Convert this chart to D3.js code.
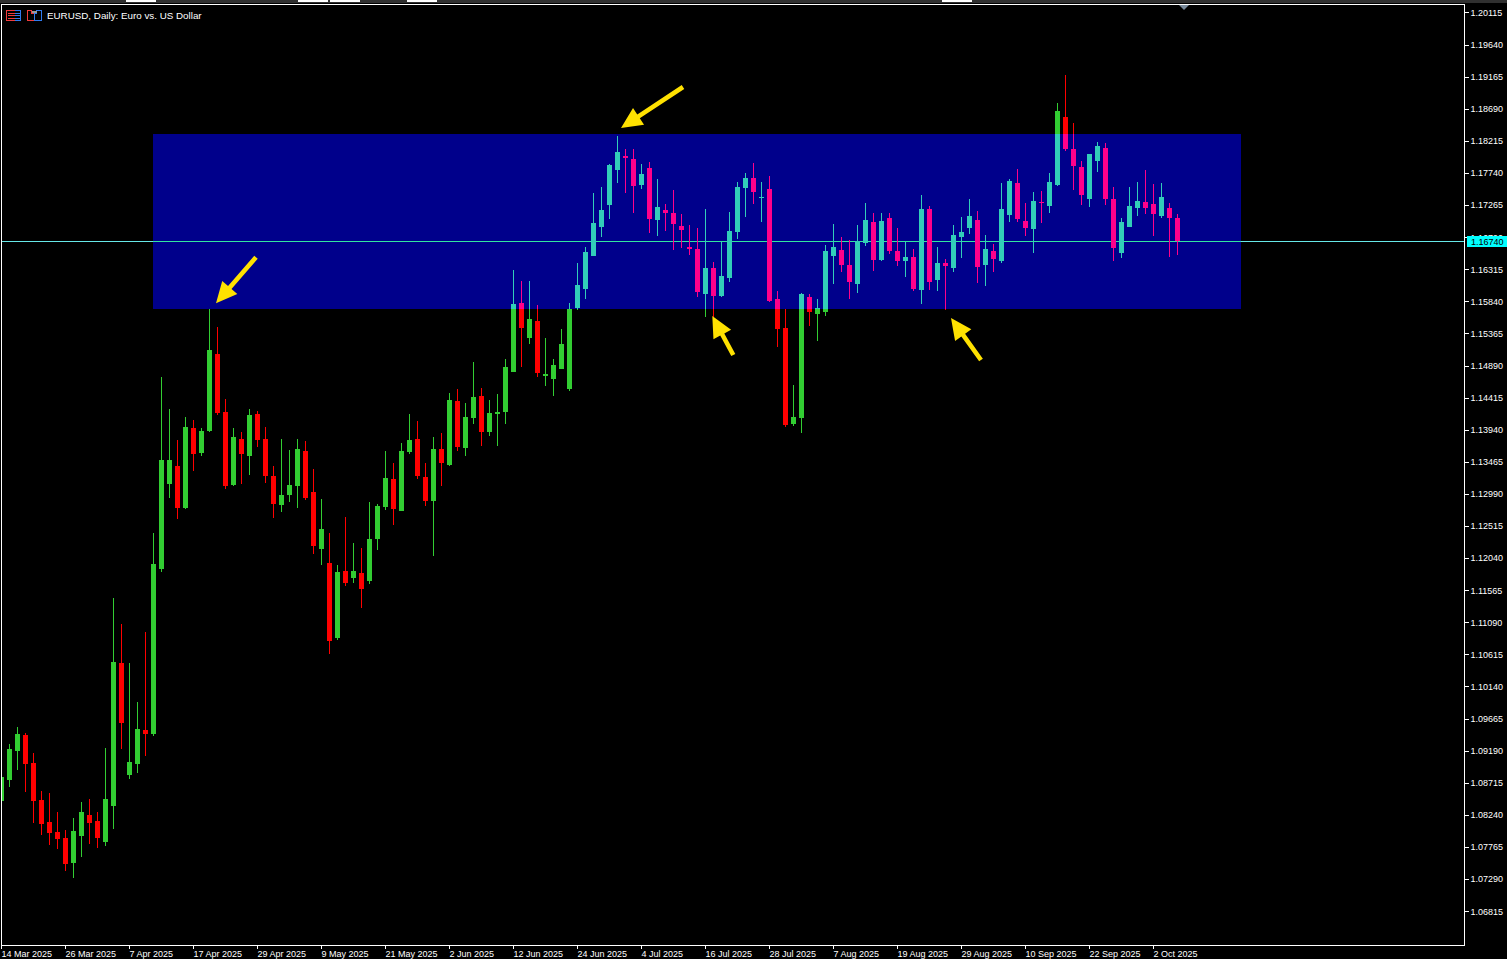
<!DOCTYPE html>
<html>
<head>
<meta charset="utf-8">
<title>EURUSD, Daily</title>
<script src="https://cdn.jsdelivr.net/npm/d3@7"></script>
<style>
html,body{margin:0;padding:0;background:#000;overflow:hidden}
svg{display:block}
text{font-family:"Liberation Sans",Arial,sans-serif;font-size:9px;fill:#fff}
</style>
</head>
<body>
<svg id="chart" width="1507" height="959"></svg>
<script>
const chartTitle = "EURUSD, Daily:  Euro vs. US Dollar";
const opens = [
1.08452,1.08763,1.09192,1.09429,1.09015,1.08467,1.08141,1.07993,1.07905,1.07535,
1.07934,1.08245,1.08156,1.07845,1.08378,1.10495,1.08837,1.09000,1.09503,1.09444,
1.11886,1.13144,1.13410,1.12789,1.13973,1.13603,1.13928,1.15068,1.14209,1.13129,
1.13810,1.13558,1.14180,1.13810,1.13262,1.12833,1.12981,1.13114,1.13632,1.13025,
1.12182,1.11975,1.10865,1.11856,1.11753,1.11827,1.11708,1.12330,1.12803,1.13218,
1.12744,1.13617,1.13810,1.13247,1.12892,1.13662,1.13425,1.14372,1.13677,1.14121,
1.14446,1.13913,1.14180,1.14209,1.14801,1.15823,1.15305,1.15556,1.14742,1.14698,
1.14846,1.14550,1.15749,1.16030,1.16518,1.16947,1.17273,1.17791,1.17998,1.17954,
1.17569,1.17821,1.17051,1.17199,1.17155,1.16962,1.16651,1.16622,1.15956,1.16341,
1.15926,1.16193,1.16873,1.17525,1.17673,1.17377,1.17510,1.15882,1.15453,1.14032,
1.14121,1.15911,1.15660,1.15689,1.16518,1.16607,1.16385,1.16104,1.16711,1.17021,
1.16459,1.17081,1.16592,1.16444,1.16503,1.16015,1.17214,1.16163,1.16415,1.16341,
1.16799,1.16933,1.17051,1.16385,1.16592,1.16444,1.17125,1.17599,1.17036,1.16918,
1.17317,1.17258,1.17569,1.18575,1.18102,1.17835,1.17362,1.17924,1.18117,1.17362,
1.16563,1.16947,1.17229,1.17317,1.17288,1.17110,1.17229,1.17081];
const highs = [
1.08807,1.09296,1.09547,1.09459,1.09163,1.08600,1.08571,1.08289,1.08023,1.08201,
1.08437,1.08482,1.08289,1.09237,1.11457,1.11072,1.10495,1.09917,1.10953,1.12419,
1.14727,1.14254,1.13795,1.14135,1.14091,1.13973,1.15734,1.15467,1.14402,1.13973,
1.13913,1.14254,1.14224,1.13987,1.13410,1.13810,1.13647,1.13810,1.13780,1.13366,
1.12922,1.12419,1.11945,1.12655,1.12271,1.12197,1.12877,1.12848,1.13632,1.13455,
1.13751,1.14180,1.14076,1.13455,1.13839,1.13899,1.14491,1.14550,1.14343,1.14949,
1.14565,1.14387,1.14476,1.14994,1.16311,1.16148,1.16148,1.15793,1.15305,1.14994,
1.15438,1.15823,1.16415,1.16651,1.17451,1.17539,1.17880,1.18294,1.18102,1.18102,
1.17880,1.17909,1.17658,1.17288,1.17495,1.17140,1.16977,1.16933,1.17214,1.16429,
1.16725,1.17169,1.17613,1.17747,1.17895,1.17613,1.17702,1.16000,1.15734,1.14609,
1.15971,1.15956,1.15882,1.16681,1.16992,1.16799,1.16755,1.16977,1.17303,1.17155,
1.17155,1.17155,1.16933,1.16725,1.16622,1.17421,1.17258,1.16651,1.16474,1.16977,
1.17095,1.17362,1.17184,1.16829,1.16696,1.17599,1.17658,1.17806,1.17303,1.17465,
1.17480,1.17747,1.18783,1.19197,1.18487,1.17924,1.18028,1.18205,1.18191,1.17539,
1.17081,1.17539,1.17613,1.17791,1.17584,1.17599,1.17303,1.17140];
const lows = [
1.08452,1.08659,1.08911,1.08585,1.08127,1.07949,1.07801,1.07742,1.07416,1.07313,
1.07623,1.07816,1.07757,1.07786,1.08038,1.09222,1.08778,1.08867,1.09118,1.09414,
1.11841,1.12937,1.12626,1.12774,1.13336,1.13558,1.13913,1.14165,1.13070,1.13114,
1.13144,1.13277,1.13691,1.13159,1.12641,1.12729,1.12877,1.12789,1.12907,1.12108,
1.11945,1.10628,1.10835,1.11634,1.11679,1.11309,1.11664,1.12167,1.12759,1.12537,
1.12744,1.13588,1.13218,1.12818,1.12078,1.13114,1.13410,1.13632,1.13558,1.14032,
1.13706,1.13854,1.13706,1.14032,1.14801,1.14875,1.15216,1.14727,1.14594,1.14446,
1.14846,1.14520,1.15719,1.15882,1.16518,1.16799,1.17066,1.17599,1.17451,1.17155,
1.17510,1.16859,1.16814,1.16888,1.16607,1.16637,1.16533,1.15911,1.15615,1.15615,
1.15911,1.16133,1.16770,1.17095,1.17288,1.17021,1.15837,1.15171,1.13987,1.14002,
1.13899,1.15482,1.15260,1.15630,1.16104,1.16281,1.15882,1.15971,1.16666,1.16296,
1.16444,1.16548,1.16370,1.16207,1.16000,1.15808,1.16015,1.16000,1.15719,1.16281,
1.16489,1.16844,1.16119,1.16074,1.16281,1.16415,1.17021,1.17021,1.16814,1.16563,
1.17007,1.17155,1.17554,1.18072,1.17495,1.17273,1.17243,1.17761,1.17273,1.16444,
1.16489,1.16947,1.17110,1.17140,1.16814,1.17081,1.16503,1.16533];
const closes = [
1.08807,1.09222,1.09444,1.09000,1.08452,1.08112,1.07979,1.07890,1.07520,1.08008,
1.08289,1.08127,1.07905,1.08482,1.10509,1.09607,1.09029,1.09518,1.09444,1.11960,
1.13499,1.13499,1.12789,1.13987,1.13588,1.13928,1.15127,1.14195,1.13114,1.13839,
1.13588,1.14165,1.13795,1.13262,1.12848,1.12981,1.13129,1.13662,1.12937,1.12226,
1.12478,1.10820,1.11841,1.11679,1.11856,1.11590,1.12330,1.12818,1.13233,1.12774,
1.13632,1.13795,1.13262,1.12892,1.13662,1.13455,1.14387,1.13691,1.14135,1.14431,
1.13913,1.14195,1.14209,1.14875,1.15808,1.15453,1.15586,1.14787,1.14772,1.14905,
1.15216,1.15734,1.16089,1.16577,1.17007,1.17199,1.17865,1.18057,1.17969,1.17554,
1.17732,1.17066,1.17243,1.17155,1.16992,1.16903,1.16622,1.15985,1.16341,1.15926,
1.16222,1.16888,1.17539,1.17673,1.17465,1.17391,1.15852,1.15438,1.14017,1.14135,
1.15956,1.15689,1.15749,1.16592,1.16651,1.16385,1.16133,1.16740,1.17051,1.16459,
1.17036,1.16592,1.16444,1.16503,1.16030,1.17214,1.16133,1.16415,1.16370,1.16829,
1.16873,1.17110,1.16355,1.16622,1.16474,1.17214,1.17628,1.17066,1.16933,1.17332,
1.17303,1.17613,1.18664,1.18102,1.17850,1.17421,1.18028,1.18146,1.17362,1.16637,
1.17021,1.17258,1.17332,1.17229,1.17140,1.17391,1.17081,1.16740];
const priceTicks = [1.20115,1.19640,1.19165,1.18690,1.18215,1.17740,1.17265,1.16790,1.16315,1.15840,
1.15365,1.14890,1.14415,1.13940,1.13465,1.12990,1.12515,1.12040,1.11565,1.11090,1.10615,1.10140,
1.09665,1.09190,1.08715,1.08240,1.07765,1.07290,1.06815];
const dateLabels = ["14 Mar 2025","26 Mar 2025","7 Apr 2025","17 Apr 2025","29 Apr 2025","9 May 2025",
"21 May 2025","2 Jun 2025","12 Jun 2025","24 Jun 2025","4 Jul 2025","16 Jul 2025","28 Jul 2025",
"7 Aug 2025","19 Aug 2025","29 Aug 2025","10 Sep 2025","22 Sep 2025","2 Oct 2025"];
const dateTickBars = [0,8,16,24,32,40,48,56,64,72,80,88,96,104,112,120,128,136,144];
const lastPrice = 1.16740;
// Resistance/support zone: first bar, last bar, upper and lower price
const zoneBars = [18.9375,154.9375];
const zonePrices = [1.18324,1.15734];
// Annotation arrows: [tail bar, tail price, tip bar, tip price]
const arrowsData = [
  [31.8125,1.16499,26.8125,1.15818],
  [85.1875,1.19019,77.4375,1.18413],
  [91.475,1.15053,88.85,1.15630],
  [122.4375,1.14979,118.6875,1.15600]
];

const W = 1507, H = 959, plotL = 2, plotR = 1464, plotT = 5, plotB = 945;
const svg = d3.select("#chart");
const x = d3.scaleLinear().domain([0,147]).range([1.5,1177.5]);
const y = d3.scaleLinear().domain([1.20307,1.06321]).range([0,945]);
const ry = p => Math.round(y(p));

svg.append("rect").attr("width",W).attr("height",H).attr("fill","#000");

const defs = svg.append("defs");
defs.append("clipPath").attr("id","plotClip").append("rect")
  .attr("x",plotL).attr("y",plotT).attr("width",plotR-plotL).attr("height",plotB-plotT);
const zx0 = Math.round(x(zoneBars[0])), zx1 = Math.round(x(zoneBars[1]));
const zy0 = ry(zonePrices[0]), zy1 = ry(zonePrices[1]);
defs.append("clipPath").attr("id","zoneClip").append("rect")
  .attr("x",zx0).attr("y",zy0).attr("width",zx1-zx0).attr("height",zy1-zy0);

// Top toolbar sliver
const strip = svg.append("g").attr("shape-rendering","crispEdges");
strip.append("rect").attr("width",W).attr("height",3).attr("fill","#303030");
[[126,30],[298,30],[330,30],[407,30],[942,30]].forEach(s=>{
  strip.append("rect").attr("x",s[0]).attr("y",0).attr("width",s[1]).attr("height",1.5).attr("fill","#fff");
});

const plot = svg.append("g").attr("clip-path","url(#plotClip)").attr("shape-rendering","crispEdges");

function drawCandles(g, up, down){
  const idx = d3.range(opens.length);
  const color = i => closes[i] >= opens[i] ? up : down;
  g.selectAll("rect.wick").data(idx).join("rect").attr("class","wick")
    .attr("x",i=>Math.floor(x(i)))
    .attr("y",i=>ry(highs[i]))
    .attr("width",1)
    .attr("height",i=>Math.max(1,ry(lows[i])-ry(highs[i])))
    .attr("fill",color);
  g.selectAll("rect.body").data(idx).join("rect").attr("class","body")
    .attr("x",i=>Math.floor(x(i))-2)
    .attr("y",i=>ry(Math.max(opens[i],closes[i])))
    .attr("width",5)
    .attr("height",i=>Math.max(1,ry(Math.min(opens[i],closes[i]))-ry(Math.max(opens[i],closes[i]))))
    .attr("fill",color);
}

// Price line behind candles, outside zone
plot.append("rect").attr("x",plotL).attr("y",ry(lastPrice)).attr("width",plotR-plotL).attr("height",1).attr("fill","#66E8E8");
// Normal candles
drawCandles(plot.append("g"),"#32CD32","#FF0000");
// Zone, XOR style: blue fill and inverted colours inside
plot.append("rect").attr("x",zx0).attr("y",zy0).attr("width",zx1-zx0).attr("height",zy1-zy0).attr("fill","#00008B");
const inZone = plot.append("g").attr("clip-path","url(#zoneClip)");
inZone.append("rect").attr("x",plotL).attr("y",ry(lastPrice)).attr("width",plotR-plotL).attr("height",1).attr("fill","#32E6A0");
drawCandles(inZone.append("g"),"#32CDB9","#FF008B");

// Arrows
const arrowColor = "#FFE100";
svg.append("g").selectAll("path").data(arrowsData).join("path")
  .attr("fill",arrowColor)
  .attr("d",a=>{
    const tx=x(a[0]),ty=y(a[1]),hx=x(a[2]),hy=y(a[3]);
    const dx=hx-tx,dy=hy-ty,len=Math.hypot(dx,dy),ux=dx/len,uy=dy/len,nx=-uy,ny=ux;
    const hl=21,hw=10,sw=2.3,bx=hx-ux*hl,by=hy-uy*hl;
    const pts=[[tx+nx*sw,ty+ny*sw],[bx+nx*sw,by+ny*sw],[bx+nx*hw,by+ny*hw],[hx,hy],[bx-nx*hw,by-ny*hw],[bx-nx*sw,by-ny*sw],[tx-nx*sw,ty-ny*sw]];
    return d3.line()(pts)+"Z";
  });

// Frame
const frame = svg.append("g").attr("shape-rendering","crispEdges").attr("fill","#fff");
frame.append("rect").attr("x",1).attr("y",4).attr("width",plotR-1+1).attr("height",1);
frame.append("rect").attr("x",1).attr("y",4).attr("width",1).attr("height",plotB-4+1);
frame.append("rect").attr("x",1).attr("y",plotB).attr("width",plotR-1+1).attr("height",1);
frame.append("rect").attr("x",plotR).attr("y",4).attr("width",1).attr("height",plotB-4+1);

// Price axis
const yAxis = d3.axisRight(y).tickValues(priceTicks).tickFormat(d3.format(".5f")).tickSize(4).tickPadding(2).offset(0);
const yg = svg.append("g").attr("transform",`translate(${plotR+0.5},0)`).call(yAxis);
yg.select(".domain").remove();
yg.selectAll("line").attr("stroke","#fff").attr("shape-rendering","crispEdges");
yg.selectAll("text").attr("fill","#fff").style("font-family",'"Liberation Sans",Arial,sans-serif').style("font-size","9px");

// Date axis
const xAxis = d3.axisBottom(x).tickValues(dateTickBars).tickFormat((d,i)=>dateLabels[i]).tickSize(3).tickPadding(2).offset(0);
const xg = svg.append("g").attr("transform",`translate(0,${plotB+0.5})`).call(xAxis);
xg.select(".domain").remove();
xg.selectAll("line").attr("stroke","#fff").attr("shape-rendering","crispEdges");
xg.selectAll("text").attr("text-anchor","start").attr("x",0).attr("fill","#fff")
  .style("font-family",'"Liberation Sans",Arial,sans-serif').style("font-size","9px");

// Last price tag
const tagY = ry(lastPrice);
svg.append("rect").attr("x",1467).attr("y",tagY-5).attr("width",40).attr("height",11).attr("fill","#00FFFF").attr("shape-rendering","crispEdges");
svg.append("text").attr("x",1471).attr("y",tagY+4).style("fill","#000").text(d3.format(".5f")(lastPrice));

// Scroll marker
svg.append("path").attr("d","M1179 5H1189L1184 10Z").attr("fill","#778899");

// Title and icons
const iconRed = "#F03C3C", iconBlue = "#2F7BEF";
const icons = svg.append("g").attr("shape-rendering","crispEdges").attr("fill","none");
icons.append("path").attr("d","M14.5 10.5H6.5V20.5H14.5").attr("stroke",iconRed);
icons.append("path").attr("d","M14.5 10.5H20.5V20.5H14.5").attr("stroke",iconBlue);
[13.5,15.5,18.5].forEach(v=>icons.append("line").attr("x1",8).attr("x2",15).attr("y1",v).attr("y2",v).attr("stroke",iconRed));
[13.5,15.5,18.5].forEach(v=>icons.append("line").attr("x1",15).attr("x2",20).attr("y1",v).attr("y2",v).attr("stroke",iconBlue));
icons.append("path").attr("d","M27.5 10.5H31.5V13.5H34.5V20.5H27.5Z").attr("stroke",iconRed).attr("stroke-width",1.5);
icons.append("path").attr("d","M36.5 13.5V10.5H41.5V20.5H34.5V13.5Z").attr("stroke",iconBlue).attr("stroke-width",1.5);
icons.append("rect").attr("x",31.5).attr("y",10.5).attr("width",5).attr("height",2).attr("fill","#999");
svg.append("text").attr("x",47).attr("y",19).style("font-size","9.8px").text(chartTitle);
</script>
</body>
</html>
